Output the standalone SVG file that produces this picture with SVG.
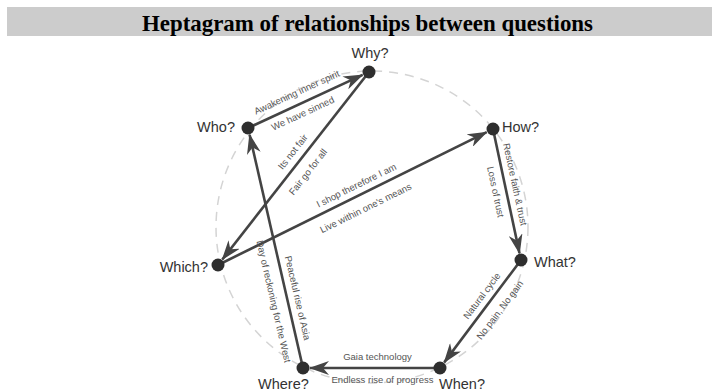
<svg xmlns="http://www.w3.org/2000/svg" width="719" height="392" viewBox="0 0 719 392">
<style>
.title{font-family:"Liberation Serif","Times New Roman",serif;font-weight:bold;font-size:24px;fill:#000}
.node{font-family:"Liberation Sans",Arial,sans-serif;font-size:14.5px;fill:#333}
.lbl{font-family:"Liberation Sans",Arial,sans-serif;font-size:9.5px;fill:#555;text-anchor:middle}
.edge{stroke:#444;stroke-width:2.6;fill:none;marker-end:url(#arr)}
.dot{fill:#2e2e2e}
</style>
<defs>
<marker id="arr" viewBox="0 0 20 14" refX="19" refY="7" markerWidth="20" markerHeight="14" markerUnits="userSpaceOnUse" orient="auto">
<path d="M0,0 L20,7 L0,14 L6,7 Z" fill="#444"/>
</marker>
</defs>
<rect x="7" y="7" width="705" height="29" fill="#cccccc"/>
<text class="title" x="367.5" y="31" text-anchor="middle" textLength="451" lengthAdjust="spacingAndGlyphs">Heptagram of relationships between questions</text>
<circle cx="372" cy="227" r="156" fill="none" stroke="#d4d4d4" stroke-width="1.5" stroke-dasharray="9 7"/>
<g id="connectors">
<line class="edge" x1="248" y1="128" x2="362.6" y2="74.9"/>
<line class="edge" x1="369" y1="72" x2="222.3" y2="259.5"/>
<line class="edge" x1="218" y1="265" x2="486.7" y2="132.1"/>
<line class="edge" x1="493" y1="129" x2="519.5" y2="253.2"/>
<line class="edge" x1="521" y1="260" x2="444.2" y2="362.4"/>
<line class="edge" x1="440" y1="368" x2="310" y2="368"/>
<line class="edge" x1="303" y1="368" x2="249.6" y2="134.8"/>
<text class="lbl" transform="translate(298.2,95.3) rotate(-24.8)">Awakening inner spirit</text>
<text class="lbl" transform="translate(304.1,116.4) rotate(-24.8)">We have sinned</text>
<text class="lbl" transform="translate(295.4,153.9) rotate(-52)">Its not fair</text>
<text class="lbl" transform="translate(310.5,173.9) rotate(-52)">Fair go for all</text>
<text class="lbl" transform="translate(357.7,188.3) rotate(-26.3)">I shop therefore I am</text>
<text class="lbl" transform="translate(367.2,211) rotate(-26.3)">Live within one's means</text>
<text class="lbl" transform="translate(511.9,185.1) rotate(77.9)">Restore faith &amp; trust</text>
<text class="lbl" transform="translate(492.5,192.5) rotate(77.9)">Loss of trust</text>
<text class="lbl" transform="translate(484.4,297.8) rotate(-53)">Natural cycle</text>
<text class="lbl" transform="translate(502.5,311.9) rotate(-53)">No pain, No gain</text>
<text class="lbl" x="377.5" y="360">Gaia technology</text>
<text class="lbl" x="382.5" y="383">Endless rise of progress</text>
<text class="lbl" transform="translate(294.5,298.6) rotate(77)">Peaceful rise of Asia</text>
<text class="lbl" transform="translate(270.5,302.1) rotate(77)">Day of reckoning for the West</text>
</g>
<g id="why"><circle class="dot" cx="369" cy="72" r="6.5"/><text class="node" x="370" y="58" text-anchor="middle">Why?</text></g>
<g id="how"><circle class="dot" cx="493" cy="129" r="6.5"/><text class="node" x="502" y="132">How?</text></g>
<g id="what"><circle class="dot" cx="521" cy="260" r="6.5"/><text class="node" x="534" y="267">What?</text></g>
<g id="when"><circle class="dot" cx="440" cy="368" r="6.5"/><text class="node" x="439" y="389">When?</text></g>
<g id="where"><circle class="dot" cx="303" cy="368" r="6.5"/><text class="node" x="258" y="389">Where?</text></g>
<g id="which"><circle class="dot" cx="218" cy="265" r="6.5"/><text class="node" x="208" y="272" text-anchor="end">Which?</text></g>
<g id="who"><circle class="dot" cx="248" cy="128" r="6.5"/><text class="node" x="235" y="132" text-anchor="end">Who?</text></g>
</svg>
